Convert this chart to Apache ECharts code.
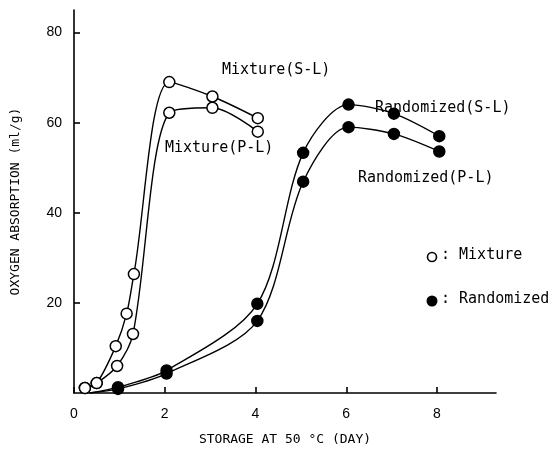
<!DOCTYPE html>
<html><head><meta charset="utf-8">
<script src="https://cdn.jsdelivr.net/npm/echarts@6/dist/echarts.min.js"></script>
<style>html,body{margin:0;padding:0;background:#fff}#c{width:560px;height:456px}</style>
</head><body><div id="c"></div>
<script>
// Data (days, ml/g)
const mixSLx = [0.24, 0.5, 0.92, 1.16, 1.32, 2.1, 3.05, 4.05];
const mixSLy = [1.1, 2.2, 10.4, 17.6, 26.4, 69, 65.8, 61];
const mixPLx = [0.24, 0.5, 0.95, 1.3, 2.1, 3.05, 4.05];
const mixPLy = [1.1, 2.2, 6, 13.1, 62.2, 63.3, 58];
const ranSLx = [0.35, 0.97, 2.04, 4.04, 5.05, 6.05, 7.05, 8.05];
const ranSLy = [0, 1.3, 5, 19.8, 53.3, 64, 62, 57];
const ranPLx = [0.35, 0.97, 2.04, 4.04, 5.05, 6.05, 7.05, 8.05];
const ranPLy = [0, 0.9, 4.3, 16, 46.9, 59, 57.5, 53.6];
const xTicks = [0, 2, 4, 6, 8];
const yTicks = [20, 40, 60, 80];
const curveLabels = ['Mixture(S-L)', 'Mixture(P-L)', 'Randomized(S-L)', 'Randomized(P-L)'];
const legendLabels = [': Mixture', ': Randomized'];

const mono = '"DejaVu Sans Mono", "Liberation Mono", monospace';
const sans = '"Liberation Sans", Arial, sans-serif';
const zip = (xs, ys) => xs.map((x, i) => [x, ys[i]]);
function mk(xs, ys, filled, hideFirst) {
  return {
    type: 'line', smooth: 0.3,
    data: zip(xs, ys).map((p, i) => (hideFirst && i === 0) ? {value: p, symbol: 'none'} : p),
    symbol: 'circle', symbolSize: 11,
    lineStyle: {color: '#000', width: 1.4},
    itemStyle: {color: filled ? '#000' : '#fff', borderColor: '#000', borderWidth: 1.5},
    emphasis: {disabled: true}, z: filled ? 3 : 4
  };
}
const chart = echarts.init(document.getElementById('c'), null, {renderer: 'canvas'});
chart.setOption({
  animation: false,
  grid: {left: 74, right: 64, top: 10, bottom: 63},
  xAxis: {
    type: 'value', min: 0, max: 9.3, interval: 2,
    axisLine: {lineStyle: {color: '#000', width: 1.6}},
    axisTick: {inside: true, length: 6, lineStyle: {color: '#000', width: 1.6}},
    splitLine: {show: false},
    axisLabel: {color: '#000', fontSize: 14, fontFamily: sans, margin: 14,
      showMaxLabel: false, formatter: v => xTicks.includes(v) ? String(v) : ''},
    name: 'STORAGE AT 50 °C (DAY)', nameLocation: 'middle', nameGap: 40,
    nameTextStyle: {color: '#000', fontSize: 13, fontFamily: mono}
  },
  yAxis: {
    type: 'value', min: 0, max: 85, interval: 20,
    axisLine: {lineStyle: {color: '#000', width: 1.6}},
    axisTick: {inside: true, length: 6, lineStyle: {color: '#000', width: 1.6}},
    splitLine: {show: false},
    axisLabel: {color: '#000', fontSize: 14, fontFamily: sans, margin: 12,
      showMinLabel: false, showMaxLabel: false, formatter: v => yTicks.includes(v) ? String(v) : ''},
    name: 'OXYGEN ABSORPTION (ml/g)', nameLocation: 'middle', nameGap: 52,
    nameTextStyle: {color: '#000', fontSize: 13, fontFamily: mono}
  },
  series: [
    mk(mixSLx, mixSLy, false, false),
    mk(mixPLx, mixPLy, false, false),
    mk(ranSLx, ranSLy, true, true),
    mk(ranPLx, ranPLy, true, true)
  ],
  graphic: [
    {type: 'text', left: 222, top: 63, style: {text: curveLabels[0], font: '15px ' + mono, fill: '#000'}},
    {type: 'text', left: 165, top: 141, style: {text: curveLabels[1], font: '15px ' + mono, fill: '#000'}},
    {type: 'text', left: 375, top: 101, style: {text: curveLabels[2], font: '15px ' + mono, fill: '#000'}},
    {type: 'text', left: 358, top: 171, style: {text: curveLabels[3], font: '15px ' + mono, fill: '#000'}},
    {type: 'circle', shape: {cx: 432, cy: 257, r: 4.5}, style: {fill: '#fff', stroke: '#000', lineWidth: 1.6}},
    {type: 'text', left: 441, top: 248, style: {text: legendLabels[0], font: '15px ' + mono, fill: '#000'}},
    {type: 'circle', shape: {cx: 432, cy: 301, r: 5.5}, style: {fill: '#000'}},
    {type: 'text', left: 441, top: 292, style: {text: legendLabels[1], font: '15px ' + mono, fill: '#000'}}
  ]
});
</script></body></html>
